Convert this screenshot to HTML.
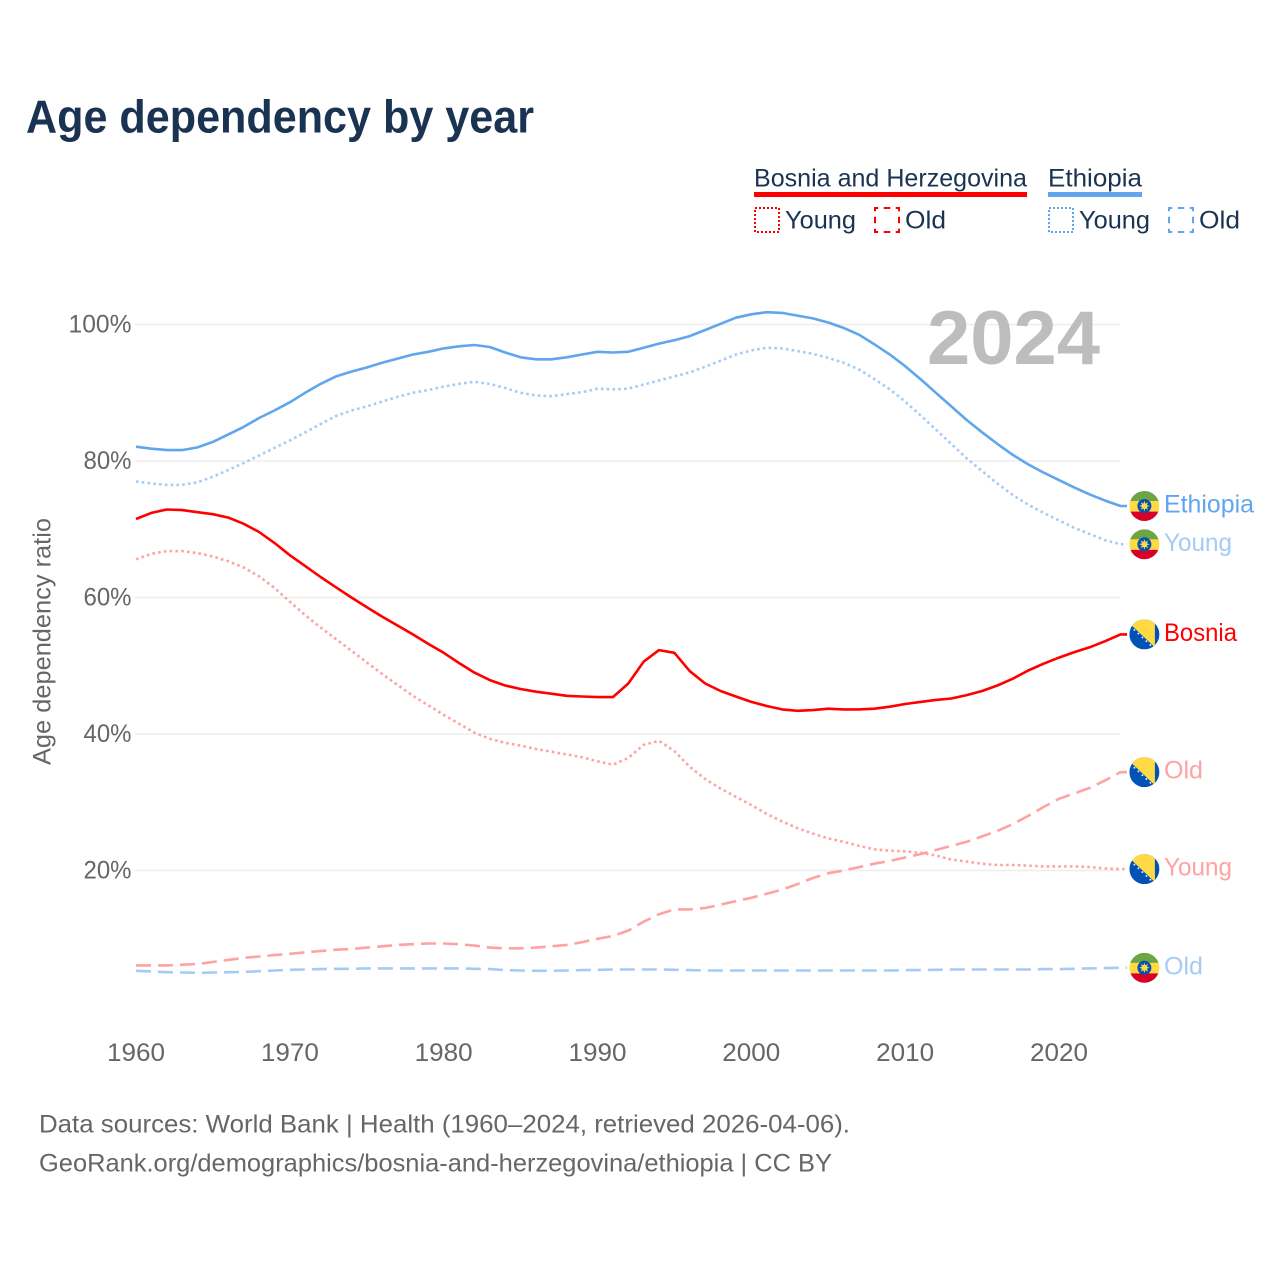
<!DOCTYPE html>
<html lang="en">
<head>
<meta charset="utf-8">
<title>Age dependency by year</title>
<style>
html,body{margin:0;padding:0;background:#fff;}
svg{display:block;font-family:"Liberation Sans",sans-serif;}
</style>
</head>
<body>
<svg id="chart" xmlns="http://www.w3.org/2000/svg" width="1280" height="1280" viewBox="0 0 1280 1280">
  <rect x="0" y="0" width="1280" height="1280" fill="#ffffff"/>
  <text x="26" y="132.5" font-size="46" font-weight="700" fill="#1a3352" textLength="508" lengthAdjust="spacingAndGlyphs">Age dependency by year</text>

  <g font-size="25" fill="#1a3352">
    <text x="754" y="186.5" textLength="273" lengthAdjust="spacingAndGlyphs">Bosnia and Herzegovina</text>
    <rect x="754" y="192" width="273" height="5" fill="#ff0000"/>
    <text x="1048" y="186.5" textLength="94" lengthAdjust="spacingAndGlyphs">Ethiopia</text>
    <rect x="1048" y="192" width="94" height="5" fill="#60a5ee"/>

    <rect x="755" y="208" width="24" height="24" fill="none" stroke="#ff0000" stroke-width="2" stroke-dasharray="2 2"/>
    <text x="785" y="228.5" textLength="71" lengthAdjust="spacingAndGlyphs">Young</text>
    <rect x="875" y="208" width="24" height="24" fill="none" stroke="#ff0000" stroke-width="2" stroke-dasharray="6.5 5.5" stroke-dashoffset="3.25"/>
    <text x="905" y="228.5" textLength="41" lengthAdjust="spacingAndGlyphs">Old</text>

    <rect x="1049" y="208" width="24" height="24" fill="none" stroke="#60a5ee" stroke-width="2" stroke-dasharray="2 2"/>
    <text x="1079" y="228.5" textLength="71" lengthAdjust="spacingAndGlyphs">Young</text>
    <rect x="1169" y="208" width="24" height="24" fill="none" stroke="#60a5ee" stroke-width="2" stroke-dasharray="6.5 5.5" stroke-dashoffset="3.25"/>
    <text x="1199" y="228.5" textLength="41" lengthAdjust="spacingAndGlyphs">Old</text>
  </g>

  <g id="grid"></g>
  <g id="yticks"></g>
  <g id="xticks"></g>

  <text x="927" y="364" font-size="76" font-weight="700" fill="#bdbdbd" textLength="173" lengthAdjust="spacingAndGlyphs">2024</text>
  <text transform="translate(50.5,765) rotate(-90)" x="0" y="0" font-size="25" fill="#666666" textLength="247" lengthAdjust="spacingAndGlyphs">Age dependency ratio</text>

  <g id="series"></g>
  <g id="labels"></g>

  <text x="39" y="1132.5" font-size="25" fill="#666666" textLength="811" lengthAdjust="spacingAndGlyphs">Data sources: World Bank | Health (1960–2024, retrieved 2026-04-06).</text>
  <text x="39" y="1171.5" font-size="25" fill="#666666" textLength="793" lengthAdjust="spacingAndGlyphs">GeoRank.org/demographics/bosnia-and-herzegovina/ethiopia | CC BY</text>
</svg>
<script>
const startYear = 1960;
const yTickValues = [20, 40, 60, 80, 100];
const xTickValues = [1960, 1970, 1980, 1990, 2000, 2010, 2020];

const ethiopiaTotal = [
  82.1,81.8,81.6,81.6,82.0,82.8,83.9,85.0,86.3,87.4,
  88.6,90.0,91.3,92.4,93.1,93.7,94.4,95.0,95.6,96.0,
  96.5,96.8,97.0,96.7,95.9,95.2,94.9,94.9,95.2,95.6,
  96.0,95.9,96.0,96.6,97.2,97.7,98.3,99.2,100.1,101.0,
  101.5,101.8,101.7,101.3,100.9,100.3,99.5,98.5,97.1,95.6,
  93.9,92.0,90.0,88.0,86.0,84.2,82.5,80.9,79.5,78.3,
  77.2,76.1,75.1,74.2,73.4
];
const ethiopiaYoung = [
  77.0,76.7,76.5,76.5,76.9,77.7,78.7,79.7,80.8,81.9,
  83.0,84.2,85.4,86.6,87.4,88.0,88.7,89.4,90.0,90.4,
  90.9,91.3,91.6,91.3,90.7,90.0,89.6,89.5,89.8,90.1,
  90.6,90.5,90.6,91.2,91.8,92.4,93.0,93.8,94.7,95.6,
  96.2,96.6,96.5,96.1,95.7,95.1,94.4,93.4,92.0,90.5,
  88.7,86.7,84.6,82.5,80.4,78.5,76.7,75.0,73.6,72.4,
  71.3,70.2,69.3,68.4,67.8
];
const ethiopiaOld = [
  5.3,5.2,5.1,5.05,5.0,5.05,5.1,5.15,5.25,5.35,
  5.45,5.5,5.55,5.6,5.6,5.65,5.65,5.65,5.65,5.65,
  5.65,5.65,5.6,5.55,5.4,5.35,5.3,5.3,5.35,5.4,
  5.45,5.5,5.5,5.5,5.5,5.45,5.4,5.35,5.35,5.35,
  5.35,5.35,5.35,5.35,5.35,5.35,5.35,5.35,5.35,5.35,
  5.4,5.4,5.45,5.5,5.5,5.5,5.5,5.5,5.5,5.55,
  5.55,5.6,5.65,5.7,5.75
];
const bosniaTotal = [
  71.5,72.4,72.9,72.8,72.5,72.2,71.7,70.8,69.6,68.0,
  66.2,64.6,63.0,61.5,60.0,58.6,57.2,55.9,54.6,53.2,
  51.9,50.4,49.0,47.9,47.1,46.6,46.2,45.9,45.6,45.5,
  45.4,45.4,47.4,50.6,52.3,51.9,49.2,47.4,46.3,45.5,
  44.7,44.1,43.6,43.4,43.5,43.7,43.6,43.6,43.7,44.0,
  44.4,44.7,45.0,45.2,45.7,46.3,47.1,48.1,49.3,50.3,
  51.2,52.0,52.7,53.6,54.6
];
const bosniaYoung = [
  65.6,66.4,66.8,66.8,66.5,66.0,65.3,64.4,63.1,61.4,
  59.4,57.4,55.6,53.9,52.2,50.5,48.8,47.2,45.6,44.2,
  42.8,41.5,40.2,39.3,38.7,38.3,37.8,37.4,37.0,36.6,
  36.0,35.5,36.5,38.4,39.0,37.5,35.2,33.4,32.0,30.8,
  29.6,28.3,27.2,26.2,25.4,24.7,24.2,23.6,23.1,22.9,
  22.8,22.6,22.2,21.6,21.3,21.0,20.8,20.8,20.7,20.6,
  20.6,20.6,20.5,20.3,20.2
];
const bosniaOld = [
  6.1,6.1,6.1,6.2,6.3,6.6,6.9,7.2,7.4,7.6,
  7.8,8.0,8.2,8.4,8.5,8.7,8.9,9.1,9.2,9.3,
  9.3,9.2,9.0,8.7,8.6,8.6,8.7,8.9,9.1,9.5,
  10.0,10.4,11.2,12.5,13.6,14.3,14.3,14.5,15.0,15.5,
  16.0,16.6,17.2,18.0,18.9,19.6,20.0,20.5,21.0,21.4,
  21.9,22.4,23.0,23.6,24.2,25.0,25.8,26.8,28.0,29.3,
  30.5,31.3,32.1,33.2,34.4
];

const NS = 'http://www.w3.org/2000/svg';
function xScale(year) { return 136 + (year - 1960) * 15.383; }
function yScale(pct) { return 1007 - pct * 6.825; }

function svgEl(tag, attrs, parent) {
  const el = document.createElementNS(NS, tag);
  for (const k in attrs) el.setAttribute(k, attrs[k]);
  parent.appendChild(el);
  return el;
}

const gridG = document.getElementById('grid');
const yTickG = document.getElementById('yticks');
const xTickG = document.getElementById('xticks');
const seriesG = document.getElementById('series');
const labelsG = document.getElementById('labels');

yTickValues.forEach(function (v) {
  const line = svgEl('line', {x1: 135, x2: 1120, y1: yScale(v), y2: yScale(v), stroke: '#eeeeee', 'stroke-width': 1.5}, gridG);
  
  
  const t = svgEl('text', {x: 131.5, y: yScale(v) + 8, 'text-anchor': 'end', 'font-size': 25, fill: '#666666', textLength: v === 100 ? 63 : 48, lengthAdjust: 'spacingAndGlyphs'}, yTickG);
  t.textContent = v + '%';
  
  
});

xTickValues.forEach(function (v) {
  const t = svgEl('text', {x: xScale(v) - 29, y: 1061, 'font-size': 25, fill: '#666666', textLength: 58, lengthAdjust: 'spacingAndGlyphs'}, xTickG);
  t.textContent = String(v);
  
  
});

function drawSeries(values, name, color, dash) {
  const pts = values.map(function (v, i) {
    return xScale(startYear + i).toFixed(1) + ',' + yScale(v).toFixed(1);
  });
  const lastY = yScale(values[values.length - 1]).toFixed(1);
  pts.push('1127,' + lastY);
  const attrs = {points: pts.join(' '), fill: 'none', stroke: color, 'stroke-width': 2.6, 'stroke-linejoin': 'round'};
  if (dash) attrs['stroke-dasharray'] = dash;
  const line = svgEl('polyline', attrs, seriesG);
  
  
}

drawSeries(bosniaOld, 'line-bosnia-old', '#ffa2a2', '15 7');
drawSeries(bosniaYoung, 'line-bosnia-young', '#ffa2a2', '2.6 3.2');
drawSeries(ethiopiaOld, 'line-ethiopia-old', '#a5cbf5', '15 7');
drawSeries(ethiopiaYoung, 'line-ethiopia-young', '#a5cbf5', '2.6 3.2');
drawSeries(bosniaTotal, 'line-bosnia-total', '#ff0000', null);
drawSeries(ethiopiaTotal, 'line-ethiopia-total', '#60a5ee', null);

let clipCount = 0;
function drawFlag(kind, cy, parent) {
  const cx = 1144.4;
  const g = svgEl('g', {transform: 'translate(' + cx + ',' + cy.toFixed(1) + ')'}, parent);
  
  
  clipCount += 1;
  const id = 'flagclip' + clipCount;
  const cp = svgEl('clipPath', {id: id}, g);
  svgEl('circle', {cx: 0, cy: 0, r: 15}, cp);
  const inner = svgEl('g', {'clip-path': 'url(#' + id + ')'}, g);
  if (kind === 'ethiopia') {
    svgEl('rect', {x: -15, y: -15, width: 30, height: 10.2, fill: '#6da544'}, inner);
    svgEl('rect', {x: -15, y: -5, width: 30, height: 10.8, fill: '#ffda44'}, inner);
    svgEl('rect', {x: -15, y: 5.6, width: 30, height: 10, fill: '#d80027'}, inner);
    svgEl('circle', {cx: 0, cy: 0, r: 7, fill: '#0052b4'}, inner);
    let star = [];
    for (let i = 0; i < 16; i++) {
      const a = i * Math.PI / 8;
      const r = i % 2 === 0 ? 5.2 : 2.6;
      star.push((r * Math.sin(a)).toFixed(2) + ',' + (-r * Math.cos(a)).toFixed(2));
    }
    svgEl('polygon', {points: star.join(' '), fill: '#ffda44'}, inner);
  } else {
    svgEl('rect', {x: -15, y: -15, width: 30, height: 30, fill: '#0052b4'}, inner);
    svgEl('polygon', {points: '-16,-12 10.5,13 10.5,-16 -16,-16', fill: '#ffda44'}, inner);
    [[-10, -4.5], [-6, -0.8], [-2, 3], [2, 6.8], [6, 10.6]].forEach(function (p) {
      svgEl('circle', {cx: p[0], cy: p[1], r: 0.95, fill: '#f0f0f0'}, inner);
    });
  }
}

function drawEndLabel(values, kind, text, color, width, name) {
  const y = yScale(values[values.length - 1]);
  drawFlag(kind, y, labelsG);
  const t = svgEl('text', {x: 1164, y: y + 6.5, 'font-size': 25, fill: color, textLength: width, lengthAdjust: 'spacingAndGlyphs'}, labelsG);
  t.textContent = text;
  
  
}

drawEndLabel(ethiopiaTotal, 'ethiopia', 'Ethiopia', '#60a5ee', 90, 'end-label-ethiopia');
drawEndLabel(ethiopiaYoung, 'ethiopia', 'Young', '#a5cbf5', 68, 'end-label-ethiopia-young');
drawEndLabel(bosniaTotal, 'bosnia', 'Bosnia', '#ff0000', 73, 'end-label-bosnia');
drawEndLabel(bosniaOld, 'bosnia', 'Old', '#ffa2a2', 39, 'end-label-bosnia-old');
drawEndLabel(bosniaYoung, 'bosnia', 'Young', '#ffa2a2', 68, 'end-label-bosnia-young');
drawEndLabel(ethiopiaOld, 'ethiopia', 'Old', '#a5cbf5', 39, 'end-label-ethiopia-old');
</script>
</body>
</html>
